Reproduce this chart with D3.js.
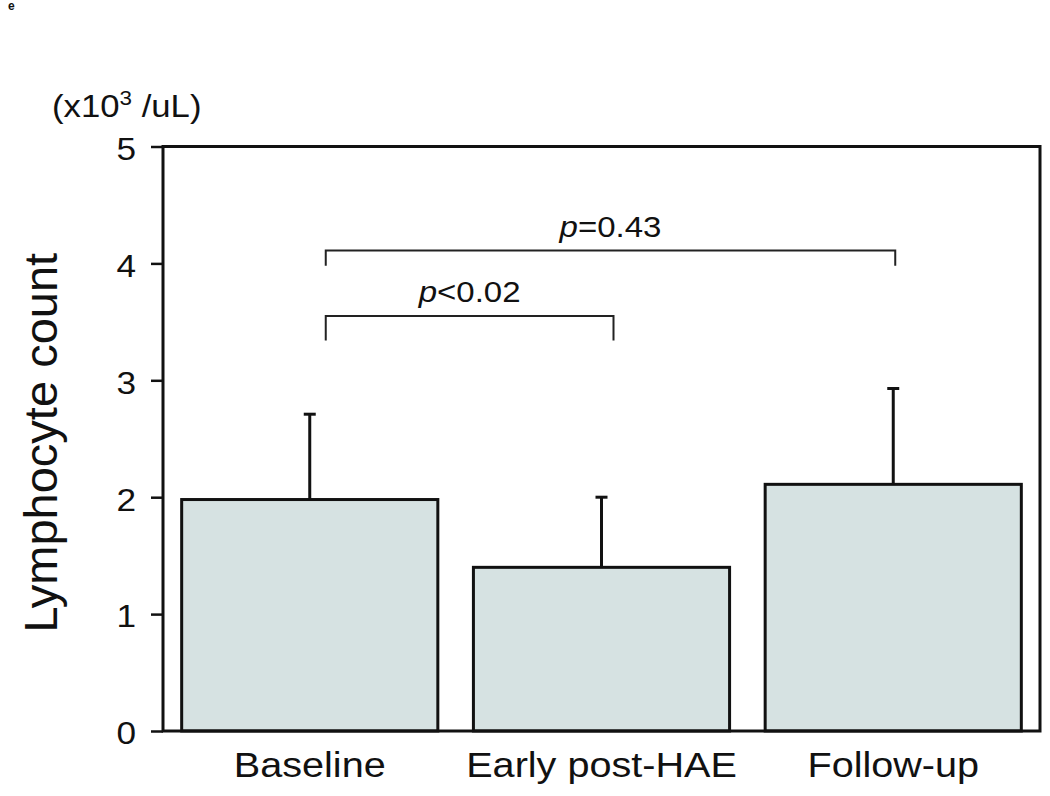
<!DOCTYPE html>
<html>
<head>
<meta charset="utf-8">
<script src="https://cdn.jsdelivr.net/npm/d3@7"></script>
<style>
  html, body { margin: 0; padding: 0; background: #fff; }
  svg { display: block; font-family: "Liberation Sans", Arial, sans-serif; }
</style>
</head>
<body>
<svg id="chart" width="1050" height="796"></svg>
<script>
// ---- data ----
const categories = ["Baseline", "Early post-HAE", "Follow-up"];
const means = [1.98, 1.40, 2.11];
const upperErr = [2.71, 2.00, 2.93];
const yTicks = [0, 1, 2, 3, 4, 5];
const comparisons = [
  { from: "Baseline", to: "Early post-HAE", level: 3.55, drop: 0.21, label: "<0.02" },
  { from: "Baseline", to: "Follow-up", level: 4.11, drop: 0.13, label: "=0.43" }
];
const yUnit = "(x10", yUnitSup = "3", yUnitTail = " /uL)";
const yTitle = "Lymphocyte count";
const panelLetter = "e";

// ---- layout ----
const svg = d3.select("#chart");
const pL = 163, pR = 1040, pT = 146.5, pB = 731;

const x = d3.scaleBand().domain(categories).range([pL, pR])
  .paddingInner(0.122).paddingOuter(0.064);
const y = d3.scaleLinear().domain([0, 5]).range([pB, pT]);

const ink = "#111";

// panel letter
svg.append("text").attr("x", 8).attr("y", 10)
  .attr("font-size", 12).attr("font-weight", "bold").attr("fill", ink)
  .text(panelLetter);

// bars
svg.append("g").selectAll("rect").data(categories).join("rect")
  .attr("x", d => x(d))
  .attr("y", (d, i) => y(means[i]))
  .attr("width", x.bandwidth())
  .attr("height", (d, i) => y(0) - y(means[i]))
  .attr("fill", "#d6e2e2")
  .attr("stroke", ink).attr("stroke-width", 3);

// error bars
const eg = svg.append("g").attr("stroke", ink).attr("stroke-width", 3);
categories.forEach((c, i) => {
  const cx = x(c) + x.bandwidth() / 2;
  eg.append("line").attr("x1", cx).attr("x2", cx)
    .attr("y1", y(means[i])).attr("y2", y(upperErr[i]));
  eg.append("line").attr("x1", cx - 6).attr("x2", cx + 6)
    .attr("y1", y(upperErr[i])).attr("y2", y(upperErr[i]));
});

// frame
svg.append("rect").attr("x", pL).attr("y", pT)
  .attr("width", pR - pL).attr("height", pB - pT)
  .attr("fill", "none").attr("stroke", ink).attr("stroke-width", 3);

// y axis
const yAxis = svg.append("g").attr("transform", `translate(${pL},0)`)
  .call(d3.axisLeft(y).tickValues(yTicks).tickFormat(d3.format("d"))
    .tickSize(12).tickPadding(15));
yAxis.select(".domain").remove();
yAxis.selectAll(".tick line").attr("stroke", ink).attr("stroke-width", 2.5);
yAxis.selectAll(".tick text").attr("font-size", 32).attr("fill", ink)
  .attr("font-family", "Liberation Sans, Arial, sans-serif")
  .attr("dy", "0.4em")
  .attr("transform", "scale(1.1,1)").attr("x", -27 / 1.1);

// x labels
const xAxis = svg.append("g").attr("transform", `translate(0,${pB})`)
  .call(d3.axisBottom(x).tickSize(0).tickPadding(20));
xAxis.select(".domain").remove();
xAxis.selectAll(".tick").attr("transform", d => `translate(${x(d) + x.bandwidth() / 2},0)`);
xAxis.selectAll(".tick text").attr("font-size", 36).attr("fill", ink)
  .attr("font-family", "Liberation Sans, Arial, sans-serif")
  .attr("dy", "0.71em")
  .attr("transform", "scale(1.1,1)");

// y title
svg.append("text")
  .attr("transform", `translate(57,${(pT + pB) / 2 + 4}) rotate(-90)`)
  .attr("text-anchor", "middle").attr("font-size", 47).attr("fill", ink)
  .text(yTitle);

// unit label
const unit = svg.append("text").attr("transform", "translate(52,117) scale(1.12,1)")
  .attr("font-size", 31).attr("fill", ink);
unit.append("tspan").text(yUnit);
unit.append("tspan").attr("font-size", 20).attr("dy", -12).text(yUnitSup);
unit.append("tspan").attr("dy", 12).text(yUnitTail);

// comparison brackets
const bg = svg.append("g");
comparisons.forEach(c => {
  const x1 = x(c.from) + x.bandwidth() / 2 + 16;
  const x2 = x(c.to) + x.bandwidth() / 2 + (c.to === "Follow-up" ? 2 : 12);
  const yl = y(c.level), yd = y(c.level - c.drop);
  bg.append("path")
    .attr("d", `M${x1},${yd}V${yl}H${x2}V${yd}`)
    .attr("fill", "none").attr("stroke", "#222").attr("stroke-width", 2);
  const t = bg.append("text")
    .attr("transform", `translate(${(x1 + x2) / 2},${yl - 14}) scale(1.1,1)`)
    .attr("text-anchor", "middle").attr("font-size", 30).attr("fill", ink);
  t.append("tspan").attr("font-style", "italic").text("p");
  t.append("tspan").text(c.label);
});
</script>
</body>
</html>
